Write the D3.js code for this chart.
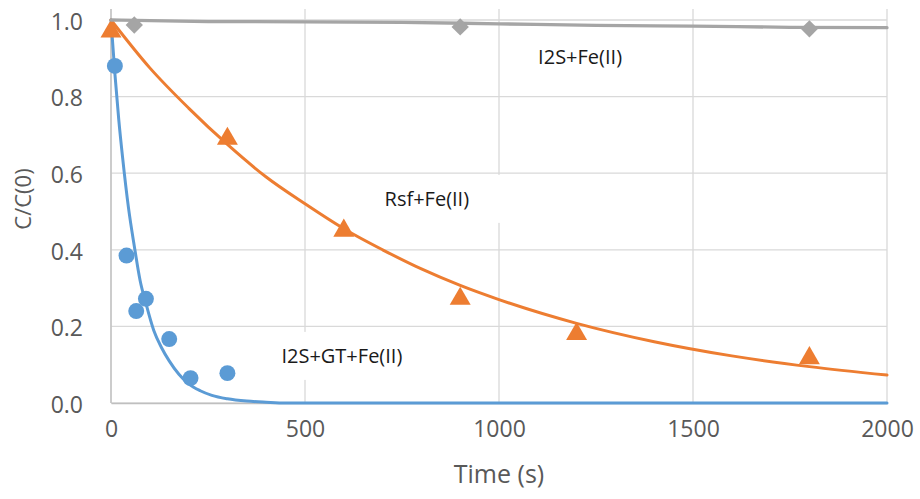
<!DOCTYPE html>
<html>
<head>
<meta charset="utf-8">
<script src="https://cdn.jsdelivr.net/npm/d3@7"></script>
<style>
  body { margin: 0; background: #fff; }
  text { font-family: "Open Sans", sans-serif; }
</style>
</head>
<body>
<script>
// measured points
var gtTime = [10, 40, 65, 90, 150, 205, 300];
var gtValue = [0.88, 0.385, 0.24, 0.272, 0.167, 0.065, 0.078];
var rsfTime = [0, 300, 600, 900, 1200, 1800];
var rsfValue = [0.97, 0.69, 0.45, 0.272, 0.18, 0.117];
var i2sTime = [60, 900, 1800];
var i2sValue = [0.987, 0.982, 0.977];

// fitted curves
var gtFitTime = [0, 10, 20, 30, 45, 60, 75, 90, 110, 130, 150, 175, 200, 230, 260, 300, 350, 400, 450, 2000];
var gtFitValue = [1.0, 0.86, 0.74, 0.64, 0.51, 0.41, 0.32, 0.26, 0.19, 0.145, 0.11, 0.075, 0.05, 0.032, 0.02, 0.011, 0.005, 0.002, 0.0, 0.0];
var rsfFitTime = [0, 100, 200, 300, 400, 500, 600, 700, 800, 900, 1000, 1200, 1400, 1600, 1800, 2000];
var rsfFitValue = [1.0, 0.875, 0.77, 0.675, 0.59, 0.52, 0.455, 0.4, 0.35, 0.307, 0.27, 0.208, 0.16, 0.123, 0.095, 0.073];
var i2sFitTime = [0, 250, 750, 1000, 1250, 1500, 1750, 2000];
var i2sFitValue = [1.0, 0.996, 0.994, 0.99, 0.986, 0.984, 0.981, 0.98];

var xTicks = [0, 500, 1000, 1500, 2000];
var yTicks = [0, 0.2, 0.4, 0.6, 0.8, 1.0];

var labels = [
  {text: "I2S+Fe(II)", t: 1209, v: 0.903},
  {text: "Rsf+Fe(II)", t: 814, v: 0.533},
  {text: "I2S+GT+Fe(II)", t: 595, v: 0.123}
];

var w = 920, h = 499;
var svg = d3.select("body").append("svg").attr("width", w).attr("height", h);

var xScale = d3.scaleLinear().domain([0, 2000]).range([111, 887]);
var yScale = d3.scaleLinear().domain([0, 1]).range([403, 20]);
var plotTop = 9;

var blue = "#5B9BD5", orange = "#ED7D31", grey = "#A5A5A5";

// grid
svg.append("g").selectAll("line").data(yTicks).enter().append("line")
  .attr("x1", xScale(0)).attr("x2", xScale(2000))
  .attr("y1", function(d){ return yScale(d); })
  .attr("y2", function(d){ return yScale(d); })
  .attr("stroke", "#d9d9d9").attr("stroke-width", 1.3);
svg.append("g").selectAll("line").data(xTicks).enter().append("line")
  .attr("x1", function(d){ return xScale(d); })
  .attr("x2", function(d){ return xScale(d); })
  .attr("y1", plotTop).attr("y2", yScale(0))
  .attr("stroke", "#d9d9d9").attr("stroke-width", 1.3);

var boxLayer = svg.append("g");

// axes
var xAxis = d3.axisBottom(xScale).tickValues(xTicks).tickSize(0).tickPadding(26)
  .tickFormat(d3.format("d"));
var yAxis = d3.axisLeft(yScale).tickValues(yTicks).tickSize(0).tickPadding(28)
  .tickFormat(d3.format(".1f"));

var gx = svg.append("g").attr("transform", "translate(0," + yScale(0) + ")").call(xAxis);
var gy = svg.append("g").attr("transform", "translate(" + xScale(0) + ",0)").call(yAxis);
gx.select(".domain").attr("stroke", "#bfbfbf").attr("stroke-width", 1.3);
gy.select(".domain").remove();
svg.append("line").attr("x1", xScale(0)).attr("x2", xScale(0))
  .attr("y1", plotTop).attr("y2", yScale(0))
  .attr("stroke", "#bfbfbf").attr("stroke-width", 1.3);
[gx, gy].forEach(function(g){
  g.selectAll("text").attr("fill", "#595959").style("font-size", "23px")
    .style("font-family", "'Open Sans', sans-serif");
});
gx.selectAll("text").attr("dy", "0.36em");
gy.selectAll("text").attr("dy", "0.4em");

svg.append("text").attr("x", (xScale(0) + xScale(2000)) / 2).attr("y", 483)
  .attr("text-anchor", "middle").attr("fill", "#595959").style("font-size", "25px")
  .text("Time (s)");
svg.append("text").attr("transform", "translate(31,199) rotate(-90)")
  .attr("text-anchor", "middle").attr("fill", "#595959").style("font-size", "22px")
  .text("C/C(0)");

// lines
function fitLine(ts, vs, color, width) {
  var pts = ts.map(function(t, i){ return [t, vs[i]]; });
  svg.append("path").datum(pts)
    .attr("fill", "none").attr("stroke", color).attr("stroke-width", width)
    .attr("stroke-linecap", "round")
    .attr("d", d3.line()
      .x(function(d){ return xScale(d[0]); })
      .y(function(d){ return yScale(d[1]); })
      .curve(d3.curveMonotoneX));
}
function markers(ts, vs, color, type, size, rot) {
  svg.append("g").selectAll("path").data(ts).enter().append("path")
    .attr("transform", function(d, i){
      return "translate(" + xScale(d) + "," + yScale(vs[i]) + ") rotate(" + (rot || 0) + ")";
    })
    .attr("d", d3.symbol().type(type).size(size))
    .attr("fill", color);
}

fitLine(gtFitTime, gtFitValue, blue, 3);
markers(gtTime, gtValue, blue, d3.symbolCircle, 200);
fitLine(rsfFitTime, rsfFitValue, orange, 3);
markers(rsfTime, rsfValue, orange, d3.symbolTriangle, 190);
fitLine(i2sFitTime, i2sFitValue, grey, 3.3);
markers(i2sTime, i2sValue, grey, d3.symbolSquare, 150, 45);

// labels with white boxes behind
var lab = svg.append("g").selectAll("text").data(labels).enter().append("text")
  .attr("x", function(d){ return xScale(d.t); })
  .attr("y", function(d){ return yScale(d.v); })
  .attr("dy", "0.36em")
  .attr("text-anchor", "middle")
  .attr("fill", "#1a1a1a").style("font-size", "20px")
  .text(function(d){ return d.text; });

lab.each(function(d){
  var b = this.getBBox();
  boxLayer.append("rect")
    .attr("x", b.x - 32).attr("width", b.width + 64)
    .attr("y", yScale(d.v) - 24).attr("height", 48)
    .attr("fill", "#fff");
});
</script>
</body>
</html>
